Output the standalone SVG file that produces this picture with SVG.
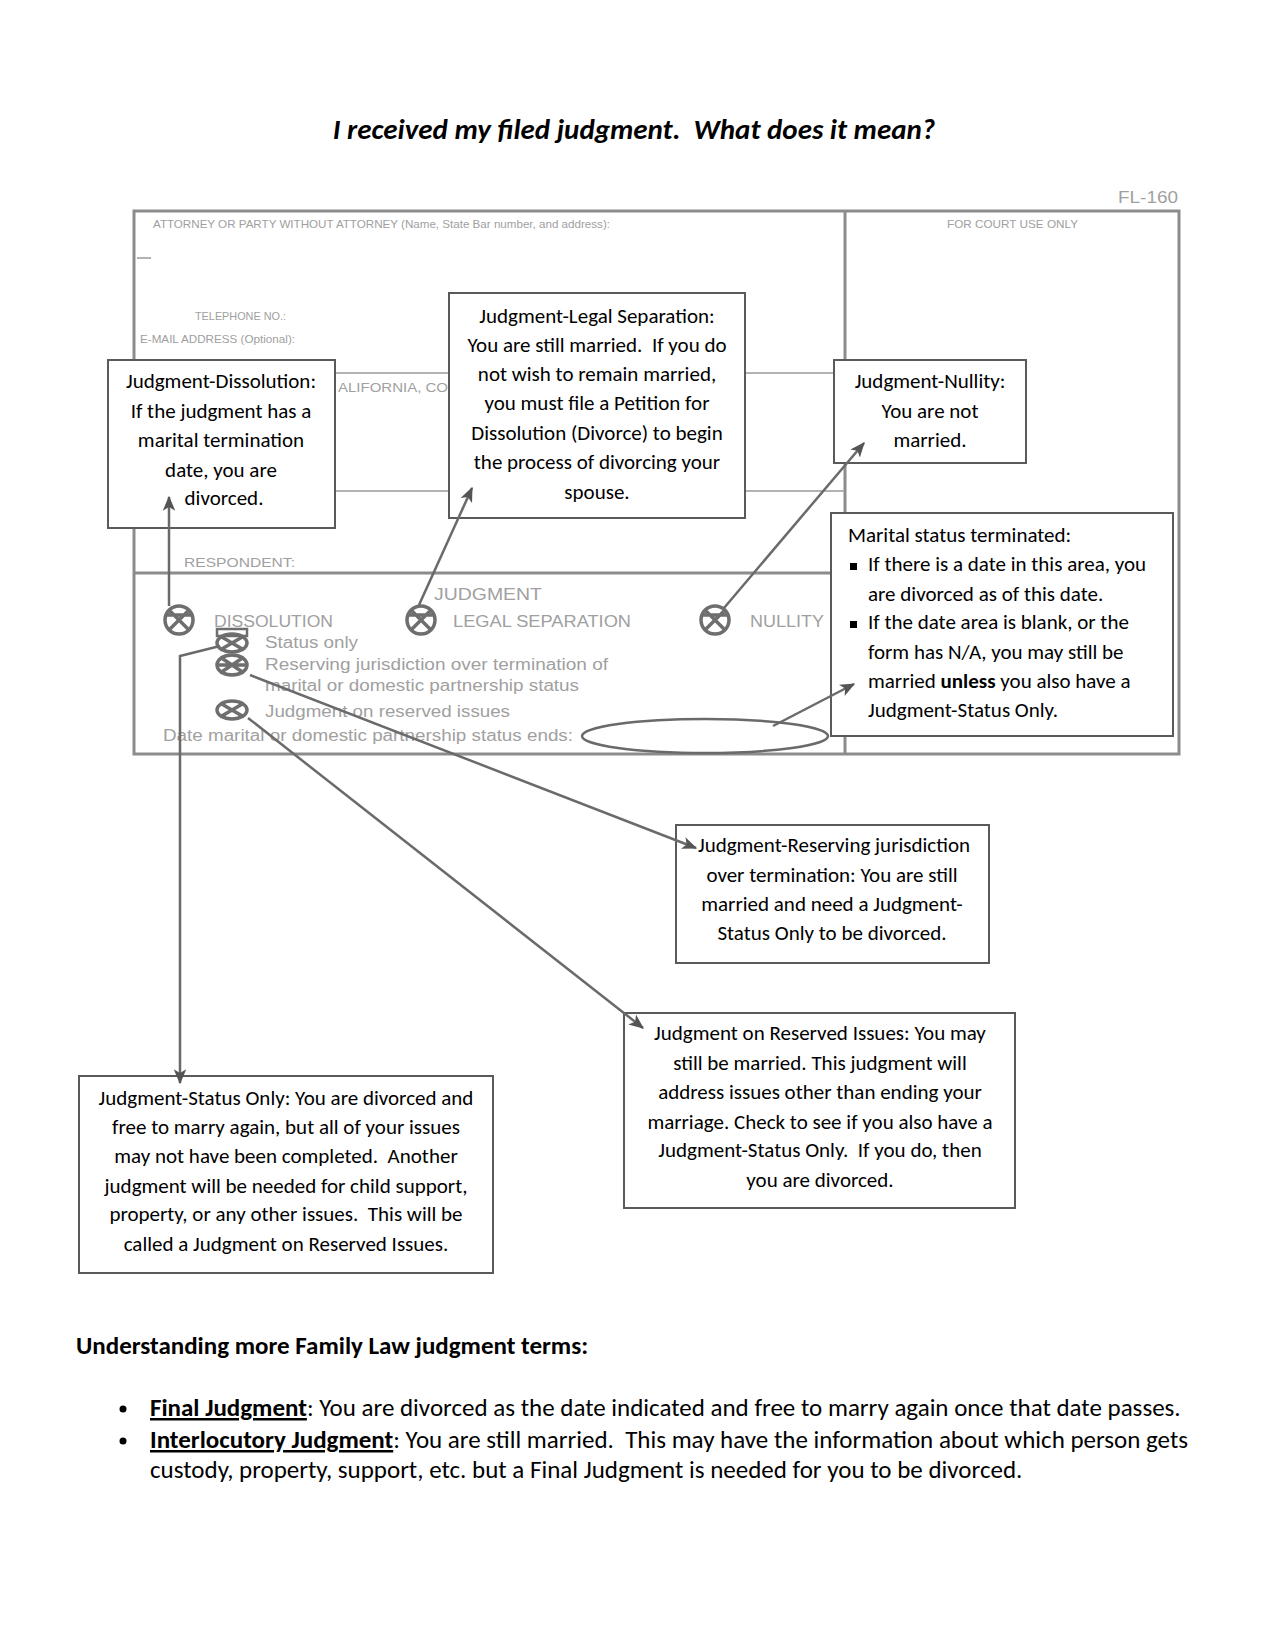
<svg xmlns="http://www.w3.org/2000/svg" width="1275" height="1650" viewBox="0 0 1275 1650">
<style>
  text { white-space: pre; }
  .form { fill: none; stroke: #8c8c8c; stroke-width: 3; }
  .thin { fill: none; stroke: #9a9a9a; stroke-width: 1.5; }
  .ftxt { font-family: "Liberation Sans", Arial, sans-serif; fill: #a0a0a0; }
  .chk { fill: none; stroke: #6e6e6e; stroke-width: 3.5; }
  .box { fill: #ffffff; stroke: #5a5a5a; stroke-width: 2; }
  .t { font-family: Carlito, Lato, "Liberation Sans", sans-serif; font-size: 21px; fill: #000; text-anchor: middle; }
  .tl { font-family: Carlito, Lato, "Liberation Sans", sans-serif; font-size: 21px; fill: #000; }
  .conn { fill: none; stroke: #6a6a6a; stroke-width: 2.5; }
  .bt { font-family: Carlito, Lato, "Liberation Sans", sans-serif; font-size: 25px; fill: #000; }
</style>
<defs>
  <marker id="arr" viewBox="0 0 12 10" refX="11" refY="5" markerWidth="6" markerHeight="6" orient="auto" markerUnits="strokeWidth">
    <path d="M0,0 L12,5 L0,10 L3,5 z" fill="#555"/>
  </marker>
</defs>
<rect width="1275" height="1650" fill="#ffffff"/>

<text x="634" y="139" text-anchor="middle" font-family="Carlito, Lato, 'Liberation Sans', sans-serif" font-size="29" font-weight="bold" font-style="italic" fill="#000">I received my filed judgment.  What does it mean?</text>

<g id="form">
  <text class="ftxt" x="1118" y="203" font-size="16" textLength="60" lengthAdjust="spacingAndGlyphs">FL-160</text>
  <rect class="form" x="134" y="211" width="1045" height="543"/>
  <line class="form" x1="845" y1="211" x2="845" y2="754"/>
  <line class="thin" x1="134" y1="373" x2="845" y2="373"/>
  <line class="thin" x1="134" y1="491" x2="845" y2="491"/>
  <line class="form" x1="134" y1="573" x2="845" y2="573"/>
  <line class="thin" x1="137" y1="258" x2="151" y2="258"/>
  <text class="ftxt" x="153" y="228" font-size="10.5" textLength="457" lengthAdjust="spacingAndGlyphs">ATTORNEY OR PARTY WITHOUT ATTORNEY (Name, State Bar number, and address):</text>
  <text class="ftxt" x="947" y="228" font-size="10.5" textLength="131" lengthAdjust="spacingAndGlyphs">FOR COURT USE ONLY</text>
  <text class="ftxt" x="195" y="320" font-size="10.5" textLength="91" lengthAdjust="spacingAndGlyphs">TELEPHONE NO.:</text>
  <text class="ftxt" x="140" y="343" font-size="10.5" textLength="155" lengthAdjust="spacingAndGlyphs">E-MAIL ADDRESS (Optional):</text>
  <text class="ftxt" x="338" y="392" font-size="13" textLength="110" lengthAdjust="spacingAndGlyphs">ALIFORNIA, CO</text>
  <text class="ftxt" x="184" y="567" font-size="13" textLength="111" lengthAdjust="spacingAndGlyphs">RESPONDENT:</text>
  <text class="ftxt" x="434" y="600" font-size="16" textLength="108" lengthAdjust="spacingAndGlyphs">JUDGMENT</text>
  <text class="ftxt" x="214" y="627" font-size="16" textLength="119" lengthAdjust="spacingAndGlyphs">DISSOLUTION</text>
  <text class="ftxt" x="453" y="627" font-size="16" textLength="178" lengthAdjust="spacingAndGlyphs">LEGAL SEPARATION</text>
  <text class="ftxt" x="750" y="627" font-size="16" textLength="74" lengthAdjust="spacingAndGlyphs">NULLITY</text>
  <text class="ftxt" x="265" y="648" font-size="16" textLength="93" lengthAdjust="spacingAndGlyphs">Status only</text>
  <text class="ftxt" x="265" y="670" font-size="16" textLength="343" lengthAdjust="spacingAndGlyphs">Reserving jurisdiction over termination of</text>
  <text class="ftxt" x="265" y="691" font-size="16" textLength="314" lengthAdjust="spacingAndGlyphs">marital or domestic partnership status</text>
  <text class="ftxt" x="265" y="717" font-size="16" textLength="245" lengthAdjust="spacingAndGlyphs">Judgment on reserved issues</text>
  <text class="ftxt" x="163" y="741" font-size="16" textLength="410" lengthAdjust="spacingAndGlyphs">Date marital or domestic partnership status ends:</text>
  <g class="chk">
    <circle cx="179" cy="620" r="14"/>
    <path d="M170,611 L188,629 M188,611 L170,629 M166,615 L192,615"/>
    <circle cx="421" cy="620" r="14"/>
    <path d="M412,611 L430,629 M430,611 L412,629 M408,615 L434,615"/>
    <circle cx="715" cy="620" r="14"/>
    <path d="M706,611 L724,629 M724,611 L706,629 M702,615 L728,615"/>
    <rect x="217" y="629" width="30" height="7" stroke-width="2.5"/>
    <ellipse cx="232" cy="643" rx="15" ry="9"/>
    <path d="M220,636 L244,650 M244,636 L220,650"/>
    <ellipse cx="232" cy="665" rx="15" ry="10"/>
    <path d="M220,657 L244,673 M244,657 L220,673 M217,665 L247,665"/>
    <ellipse cx="232" cy="710" rx="15" ry="9"/>
    <path d="M220,703 L244,717 M244,703 L220,717"/>
  </g>
  <ellipse cx="705" cy="736" rx="123" ry="17" fill="none" stroke="#6a6a6a" stroke-width="2.5"/>
</g>

<g id="node-dissolution">
  <rect class="box" x="108" y="360" width="227" height="168"/>
  <text class="t" x="221" y="388">Judgment-Dissolution:</text>
  <text class="t" x="221" y="418">If the judgment has a</text>
  <text class="t" x="221" y="447">marital termination</text>
  <text class="t" x="221" y="477">date, you are</text>
  <text class="t" x="224" y="505">divorced.</text>
</g>

<g id="node-legal-separation">
  <rect class="box" x="449" y="293" width="296" height="225"/>
  <text class="t" x="597" y="323">Judgment-Legal Separation:</text>
  <text class="t" x="597" y="352">You are still married.  If you do</text>
  <text class="t" x="597" y="381">not wish to remain married,</text>
  <text class="t" x="597" y="410">you must file a Petition for</text>
  <text class="t" x="597" y="440">Dissolution (Divorce) to begin</text>
  <text class="t" x="597" y="469">the process of divorcing your</text>
  <text class="t" x="597" y="499">spouse.</text>
</g>

<g id="node-nullity">
  <rect class="box" x="834" y="360" width="192" height="103"/>
  <text class="t" x="930" y="388">Judgment-Nullity:</text>
  <text class="t" x="930" y="418">You are not</text>
  <text class="t" x="930" y="447">married.</text>
</g>

<g id="node-marital-status">
  <rect class="box" x="831" y="513" width="342" height="223"/>
  <text class="tl" x="848" y="542">Marital status terminated:</text>
  <rect x="850" y="563" width="7" height="7" fill="#000"/>
  <text class="tl" x="868" y="571">If there is a date in this area, you</text>
  <text class="tl" x="868" y="601">are divorced as of this date.</text>
  <rect x="850" y="621" width="7" height="7" fill="#000"/>
  <text class="tl" x="868" y="629">If the date area is blank, or the</text>
  <text class="tl" x="868" y="659">form has N/A, you may still be</text>
  <text class="tl" x="868" y="688">married <tspan font-weight="bold">unless</tspan> you also have a</text>
  <text class="tl" x="868" y="717">Judgment-Status Only.</text>
</g>

<g id="node-reserving">
  <rect class="box" x="676" y="825" width="313" height="138"/>
  <text class="t" x="834" y="852">Judgment-Reserving jurisdiction</text>
  <text class="t" x="832" y="882">over termination: You are still</text>
  <text class="t" x="832" y="911">married and need a Judgment-</text>
  <text class="t" x="832" y="940">Status Only to be divorced.</text>
</g>

<g id="node-reserved-issues">
  <rect class="box" x="624" y="1013" width="391" height="195"/>
  <text class="t" x="820" y="1040">Judgment on Reserved Issues: You may</text>
  <text class="t" x="820" y="1070">still be married. This judgment will</text>
  <text class="t" x="820" y="1099">address issues other than ending your</text>
  <text class="t" x="820" y="1129">marriage. Check to see if you also have a</text>
  <text class="t" x="820" y="1157">Judgment-Status Only.  If you do, then</text>
  <text class="t" x="820" y="1187">you are divorced.</text>
</g>

<g id="node-status-only">
  <rect class="box" x="79" y="1076" width="414" height="197"/>
  <text class="t" x="286" y="1105">Judgment-Status Only: You are divorced and</text>
  <text class="t" x="286" y="1134">free to marry again, but all of your issues</text>
  <text class="t" x="286" y="1163">may not have been completed.  Another</text>
  <text class="t" x="286" y="1193">judgment will be needed for child support,</text>
  <text class="t" x="286" y="1221">property, or any other issues.  This will be</text>
  <text class="t" x="286" y="1251">called a Judgment on Reserved Issues.</text>
</g>

<g id="connectors">
  <line class="conn" x1="169" y1="606" x2="169" y2="497" marker-end="url(#arr)"/>
  <line class="conn" x1="419" y1="605" x2="472" y2="488" marker-end="url(#arr)"/>
  <line class="conn" x1="724" y1="608" x2="864" y2="443" marker-end="url(#arr)"/>
  <line class="conn" x1="773" y1="726" x2="854" y2="684" marker-end="url(#arr)"/>
  <polyline class="conn" points="220,646 180,656 180,1083" marker-end="url(#arr)"/>
  <line class="conn" x1="250" y1="675" x2="696" y2="848" marker-end="url(#arr)"/>
  <line class="conn" x1="248" y1="718" x2="643" y2="1028" marker-end="url(#arr)"/>
</g>

<g id="terms">
  <text class="bt" x="76" y="1354" font-weight="bold">Understanding more Family Law judgment terms:</text>
  <circle cx="123" cy="1409" r="3.5" fill="#000"/>
  <text class="bt" x="150" y="1416"><tspan font-weight="bold" text-decoration="underline">Final Judgment</tspan>: You are divorced as the date indicated and free to marry again once that date passes.</text>
  <circle cx="123" cy="1441" r="3.5" fill="#000"/>
  <text class="bt" x="150" y="1448"><tspan font-weight="bold" text-decoration="underline">Interlocutory Judgment</tspan>: You are still married.  This may have the information about which person gets</text>
  <text class="bt" x="150" y="1478">custody, property, support, etc. but a Final Judgment is needed for you to be divorced.</text>
</g>
</svg>
